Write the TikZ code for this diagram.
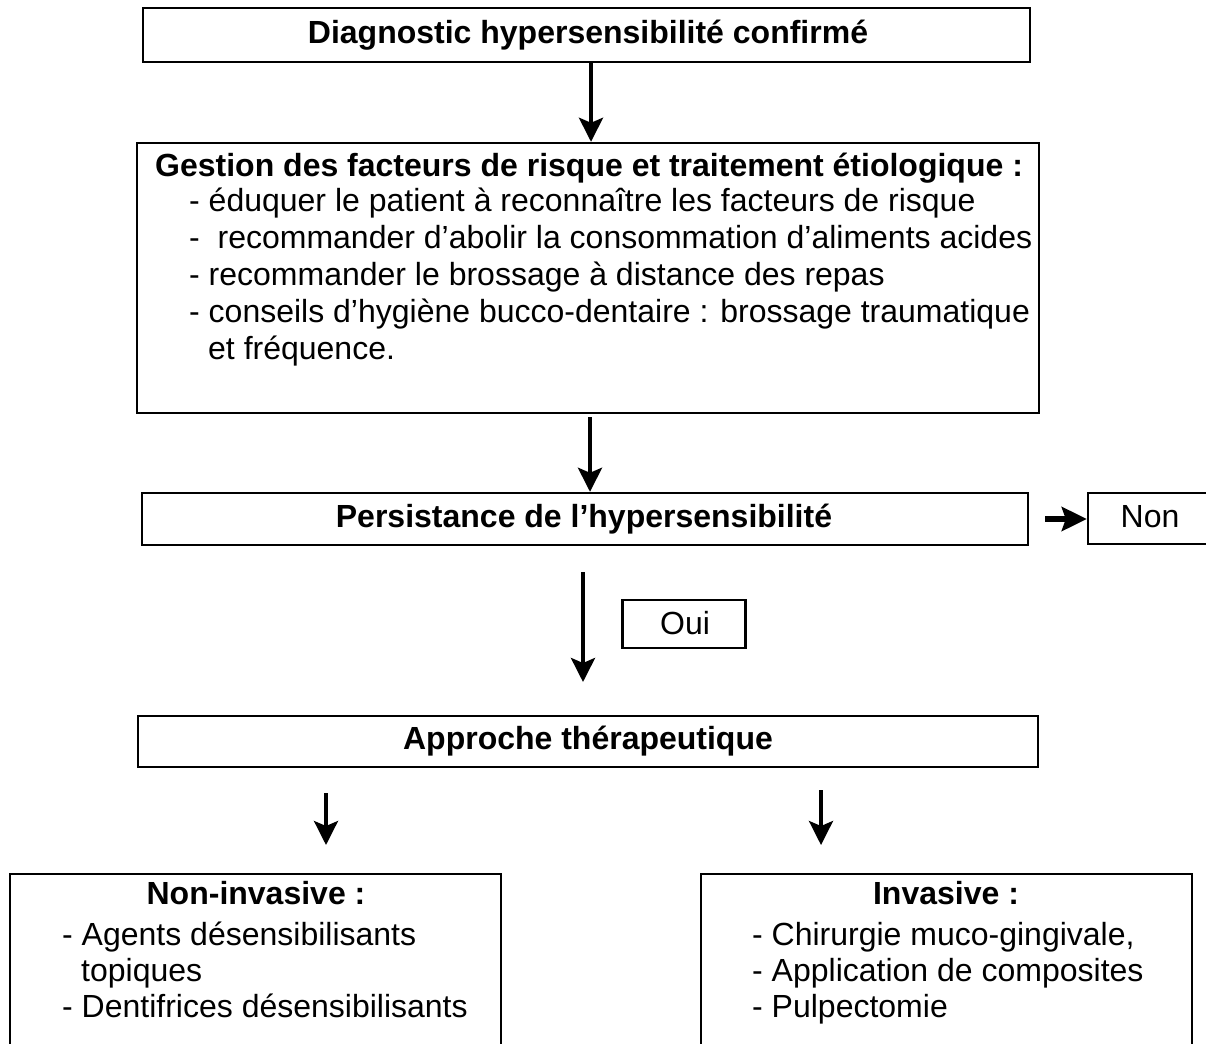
\documentclass[tikz,border=0pt]{standalone}
\usepackage{fontspec}
\setmainfont{Liberation Sans}
\usetikzlibrary{arrows.meta}
\begin{document}
\begin{tikzpicture}[x=1pt,y=-1pt,
  box/.style={draw,line width=2.4pt,inner sep=0pt},
  txt/.style={font=\fontsize{32}{37}\selectfont,inner sep=0pt,anchor=base west},
  ctxt/.style={font=\fontsize{32}{37}\selectfont,inner sep=0pt,anchor=base},
  btxt/.style={font=\fontsize{32}{37}\selectfont\bfseries,inner sep=0pt,anchor=base},
  bltxt/.style={font=\fontsize{32}{37}\selectfont\bfseries,inner sep=0pt,anchor=base west},
  arr/.style={line width=4pt,-{Stealth[width=24pt,length=24pt,inset=5pt]}}]
\useasboundingbox (0,0) rectangle (1206,1043);
\fill[white] (0,0) rectangle (1206,1043);
\clip (0,0) rectangle (1206,1043);

% boxes
\node[box,minimum width=887pt,minimum height=54pt] (b1) at (586.5,35) {};
\node[box,minimum width=902pt,minimum height=270pt] (b2) at (588,278) {};
\node[box,minimum width=886pt,minimum height=52pt] (b3) at (585,519) {};
\node[box,minimum width=160pt,minimum height=51pt] (non) at (1168,518.5) {};
\node[box,minimum width=123pt,minimum height=48pt] (oui) at (684,624) {};
\node[box,minimum width=900pt,minimum height=51pt] (b4) at (588,741.5) {};
\node[box,minimum width=491pt,minimum height=200pt] (bl) at (255.5,974) {};
\node[box,minimum width=491pt,minimum height=200pt] (br) at (946.5,974) {};

% texts
\node[btxt] (t1) at (588,44) {Diagnostic hypersensibilité confirmé};
\node[bltxt] (t2) at (155,176) {Gestion des facteurs de risque et traitement étiologique :};
\node[txt] (t2a) at (189,211) {- éduquer le patient à reconnaître les facteurs de risque};
\node[txt] (t2b) at (189,248) {-\ \ recommander d’abolir la consommation d’aliments acides};
\node[txt] (t2c) at (189,285) {- recommander le brossage à distance des repas};
\node[txt] (t2d) at (189,322) {- conseils d’hygiène bucco-dentaire : brossage traumatique};
\node[txt] (t2e) at (208,359) {et fréquence.};
\node[btxt] (t3) at (584,527) {Persistance de l’hypersensibilité};
\node[ctxt] (tnon) at (1150,527) {Non};
\node[ctxt] (toui) at (685,634) {Oui};
\node[btxt] (t4) at (588,749) {Approche thérapeutique};
\node[btxt] (tl) at (256,904) {Non-invasive :};
\node[txt] (tla) at (62,945) {- Agents désensibilisants};
\node[txt] (tlb) at (81,981) {topiques};
\node[txt] (tlc) at (62,1017) {- Dentifrices désensibilisants};
\node[btxt] (tr) at (946,904) {Invasive :};
\node[txt] (tra) at (752,945) {- Chirurgie muco-gingivale,};
\node[txt] (trb) at (752,981) {- Application de composites};
\node[txt] (trc) at (752,1017) {- Pulpectomie};

% connector end points
\coordinate (a2s) at (590,417);
\coordinate (nons) at (1045,519);
\coordinate (ouis) at (583,572);
\coordinate (ouie) at (583,682);
\coordinate (ls) at (326,793);
\coordinate (le) at (326,845);
\coordinate (rs) at (821,790);
\coordinate (re) at (821,845);

% connectors
\draw[arr] (b1.south -| 591,0) -- (b2.north -| 591,0);
\draw[arr] (a2s) -- (b3.north -| a2s);
\draw[line width=6pt,-{Stealth[width=24pt,length=25pt,inset=4pt]}] (nons) -- (non.west |- nons);
\draw[arr] (ouis) -- (ouie);
\draw[arr,line width=3.5pt] (ls) -- (le);
\draw[arr,line width=3.5pt] (rs) -- (re);
\end{tikzpicture}
\end{document}
